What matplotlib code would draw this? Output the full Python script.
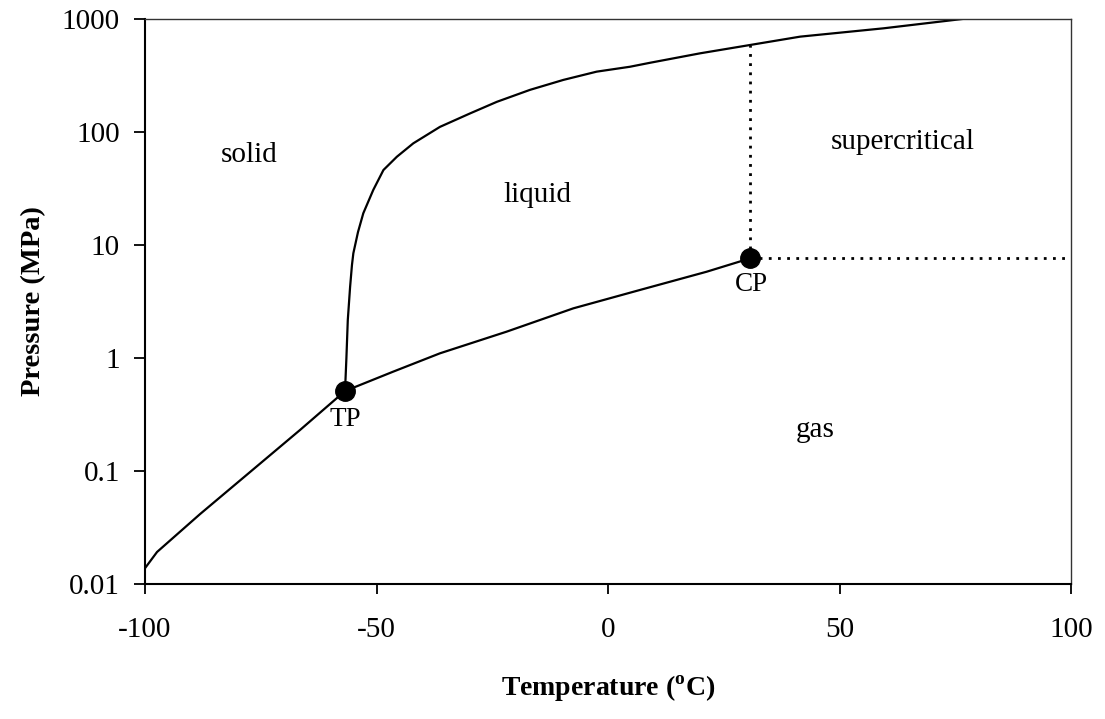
import numpy as np
import matplotlib
matplotlib.use("Agg")
import matplotlib.pyplot as plt
from matplotlib.ticker import FixedLocator, FixedFormatter, NullLocator

plt.rcParams['font.family'] = ['Liberation Serif', 'DejaVu Serif']
plt.rcParams['mathtext.fontset'] = 'custom'
plt.rcParams['mathtext.rm'] = 'Liberation Serif'
plt.rcParams['mathtext.bf'] = 'Liberation Serif:bold'

# sublimation curve (solid-gas), T in C, P in MPa
subl_T = [-100, -97.4, -88.1, -77.3, -66.5, -56.8]
subl_P = [0.0138, 0.0192, 0.0416, 0.098, 0.231, 0.51]

# vapour pressure curve (liquid-gas)
vap_T = [-56.8, -46.4, -36.3, -21.9, -7.5, 6.9, 21.3, 30.7]
vap_P = [0.51, 0.757, 1.10, 1.71, 2.75, 4.0, 5.80, 7.62]

# melting curve (solid-liquid)
melt_T = [-56.8, -56.5, -56.2, -55.7, -55.3, -55.0, -54.0, -52.85, -50.7,
          -48.5, -45.6, -42.05, -36.3, -29.8, -24.0, -16.85, -9.65, -2.45,
          4.75, 9.1, 19.9, 30.7, 41.5, 59.5, 76.5]
melt_P = [0.51, 1.0, 2.17, 4.27, 6.65, 8.45, 13.0, 19.1, 30.7,
          46.1, 60.4, 79.4, 111, 146, 185, 236, 289, 342,
          378, 410, 497, 589, 698, 827, 1000]

# triple and critical points
tp_T, tp_P = -56.8, 0.51
cp_T, cp_P = 30.7, 7.62
cp_top_P = 589

yticks = [0.01, 0.1, 1, 10, 100, 1000]
ylabels = ['0.01', '0.1', '1', '10', '100', '1000']
xticks = [-100, -50, 0, 50, 100]
xlabels = ['-100', '-50', '0', '50', '100']

regions = ['solid', 'liquid', 'supercritical', 'gas']
region_T = [-77.5, -15.3, 63.7, 44.7]
region_P = [62.5, 27.7, 81.7, 0.231]

fig = plt.figure(figsize=(11.05, 7.19), dpi=100)
ax = fig.add_axes([145 / 1105, 1 - 584 / 719, (1071 - 145) / 1105, (584 - 19) / 719])

ax.plot(subl_T, subl_P, color='black', lw=1.6)
ax.plot(vap_T, vap_P, color='black', lw=1.6)
ax.plot(melt_T, melt_P, color='black', lw=1.6)

ax.plot([cp_T, cp_T], [cp_P, cp_top_P], color='black', lw=2.0,
        linestyle=(0, (1.0, 2.3)))
ax.plot([cp_T, 100], [cp_P, cp_P], color='black', lw=2.0,
        linestyle=(0, (1.0, 2.3)))

ax.plot([tp_T, cp_T], [tp_P, cp_P], 'o', color='black', markersize=14, zorder=5)

ax.text(tp_T, 0.283, 'TP', ha='center', va='center', fontsize=19.5)
ax.text(cp_T + 0.2, 4.43, 'CP', ha='center', va='center', fontsize=19.5)
for name, t, p in zip(regions, region_T, region_P):
    ax.text(t, p, name, ha='center', va='center', fontsize=21)

ax.set_yscale('log')
ax.set_xlim(-100, 100)
ax.set_ylim(0.01, 1000)
ax.yaxis.set_major_locator(FixedLocator(yticks))
ax.yaxis.set_major_formatter(FixedFormatter(ylabels))
ax.yaxis.set_minor_locator(NullLocator())
ax.xaxis.set_major_locator(FixedLocator(xticks))
ax.xaxis.set_major_formatter(FixedFormatter(xlabels))

ax.tick_params(axis='y', direction='out', length=8, width=1.3, pad=10, labelsize=21)
ax.tick_params(axis='x', direction='out', length=7, width=1.3, pad=17, labelsize=21)

for side in ['left', 'bottom']:
    ax.spines[side].set_linewidth(1.5)
for side in ['top', 'right']:
    ax.spines[side].set_linewidth(1.0)
    ax.spines[side].set_color('#333333')

ax.set_ylabel('Pressure (MPa)', fontsize=20.5, fontweight='bold', labelpad=11)
ax.set_xlabel(r'Temperature ($^{\mathbf{o}}$C)', fontsize=20, fontweight='bold', labelpad=22)

fig.savefig('out.png', dpi=100)
